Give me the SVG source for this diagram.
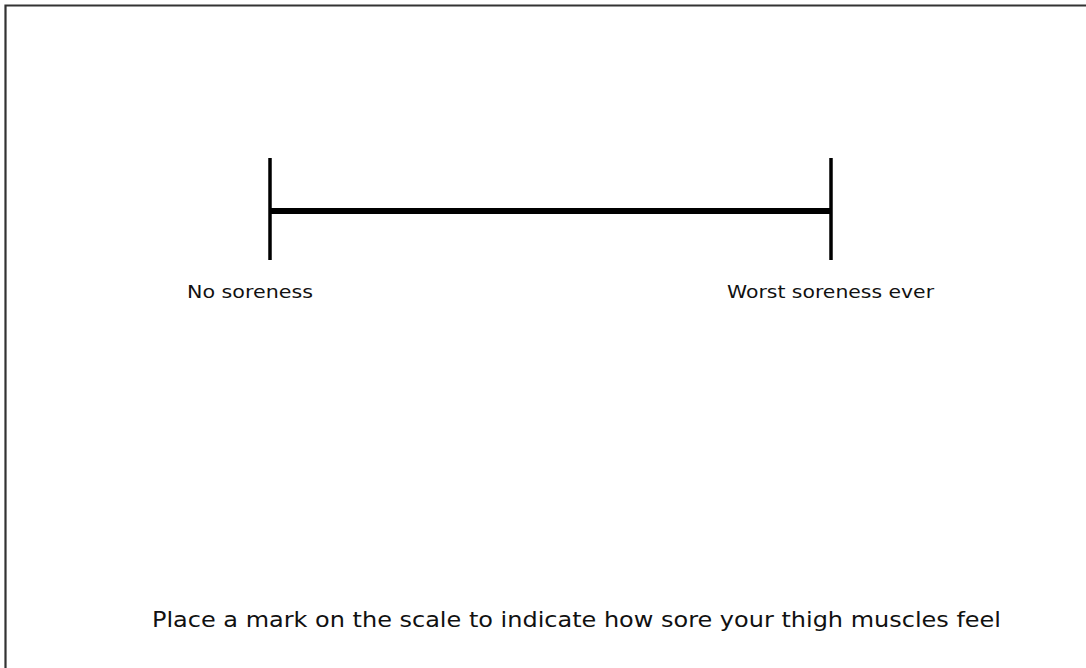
<svg xmlns="http://www.w3.org/2000/svg" width="1086" height="668" viewBox="0 0 1086 668">
<style>
.lbl{font-family:"DejaVu Sans","Liberation Sans",sans-serif;fill:#111}
.tick{stroke:#000;stroke-width:3.5}
</style>
<rect x="0" y="0" width="1086" height="668" fill="#fff"/>
<path d="M5.5 672 V5.5 H1090" fill="none" stroke="#333" stroke-width="2.2"/>
<g id="scale">
<line class="tick" x1="270" y1="158" x2="270" y2="260"/>
<line class="tick" x1="831" y1="158" x2="831" y2="260"/>
<line x1="270" y1="211" x2="831" y2="211" stroke="#000" stroke-width="6"/>
</g>
<g id="label-left"><text class="lbl" x="187" y="298" font-size="17" textLength="126" lengthAdjust="spacingAndGlyphs">No soreness</text></g>
<g id="label-right"><text class="lbl" x="727" y="298" font-size="17" textLength="207" lengthAdjust="spacingAndGlyphs">Worst soreness ever</text></g>
<g id="instruction"><text class="lbl" x="152" y="627" font-size="21" textLength="849" lengthAdjust="spacingAndGlyphs">Place a mark on the scale to indicate how sore your thigh muscles feel</text></g>
</svg>
